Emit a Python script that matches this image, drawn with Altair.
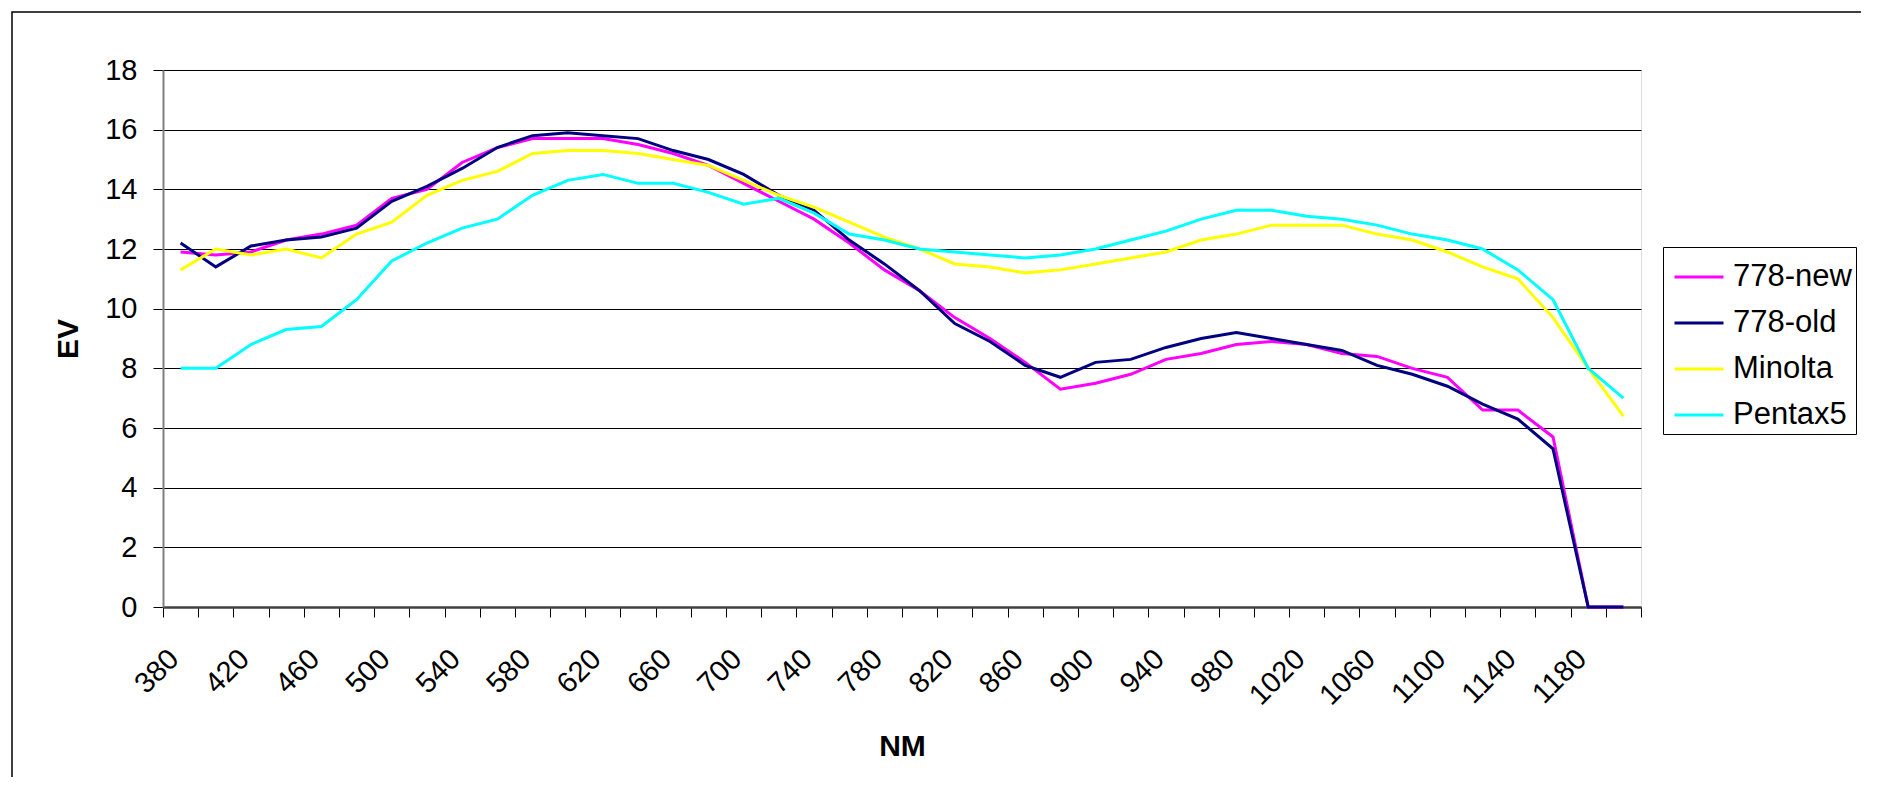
import altair as alt
import pandas as pd

wavelengths = [380, 400, 420, 440, 460, 480, 500, 520, 540, 560,
               580, 600, 620, 640, 660, 680, 700, 720, 740, 760,
               780, 800, 820, 840, 860, 880, 900, 920, 940, 960,
               980, 1000, 1020, 1040, 1060, 1080, 1100, 1120, 1140, 1160,
               1180, 1200]

ev_778_new = [11.9, 11.8, 11.9, 12.3, 12.5, 12.8, 13.7, 14.0, 14.9, 15.4,
              15.7, 15.7, 15.7, 15.5, 15.2, 14.8, 14.2, 13.6, 13.0, 12.2,
              11.3, 10.6, 9.7, 9.0, 8.2, 7.3, 7.5, 7.8, 8.3, 8.5,
              8.8, 8.9, 8.8, 8.5, 8.4, 8.0, 7.7, 6.6, 6.6, 5.7,
              0.0, 0.0]
ev_778_old = [12.2, 11.4, 12.1, 12.3, 12.4, 12.7, 13.6, 14.1, 14.7, 15.4,
              15.8, 15.9, 15.8, 15.7, 15.3, 15.0, 14.5, 13.8, 13.3, 12.3,
              11.5, 10.6, 9.5, 8.9, 8.1, 7.7, 8.2, 8.3, 8.7, 9.0,
              9.2, 9.0, 8.8, 8.6, 8.1, 7.8, 7.4, 6.8, 6.3, 5.3,
              0.0, 0.0]
ev_minolta = [11.3, 12.0, 11.8, 12.0, 11.7, 12.5, 12.9, 13.8, 14.3, 14.6,
              15.2, 15.3, 15.3, 15.2, 15.0, 14.8, 14.3, 13.8, 13.4, 12.9,
              12.4, 12.0, 11.5, 11.4, 11.2, 11.3, 11.5, 11.7, 11.9, 12.3,
              12.5, 12.8, 12.8, 12.8, 12.5, 12.3, 11.9, 11.4, 11.0, 9.7,
              8.0, 6.4]
ev_pentax5 = [8.0, 8.0, 8.8, 9.3, 9.4, 10.3, 11.6, 12.2, 12.7, 13.0,
              13.8, 14.3, 14.5, 14.2, 14.2, 13.9, 13.5, 13.7, 13.2, 12.5,
              12.3, 12.0, 11.9, 11.8, 11.7, 11.8, 12.0, 12.3, 12.6, 13.0,
              13.3, 13.3, 13.1, 13.0, 12.8, 12.5, 12.3, 12.0, 11.3, 10.3,
              8.0, 7.0]

series_names = ["778-new", "778-old", "Minolta", "Pentax5"]
series_colors = ["#FF00FF", "#000080", "#FFFF00", "#00FFFF"]
y_ticks = [0, 2, 4, 6, 8, 10, 12, 14, 16, 18]

rows = []
for name, vals in zip(series_names, [ev_778_new, ev_778_old, ev_minolta, ev_pentax5]):
    for wl, v in zip(wavelengths, vals):
        rows.append({"NM": wl, "EV": v, "series": name})
df = pd.DataFrame(rows)

W = 1478
H = 537
FONT = "Liberation Sans"

lines = alt.Chart(df).mark_line(strokeWidth=3).encode(
    x=alt.X(
        "NM:O",
        bandPosition=0.5,
        scale=alt.Scale(type="band", paddingInner=0, paddingOuter=0),
        axis=alt.Axis(
            title="NM",
            titleFont=FONT,
            titleFontSize=30,
            titleFontWeight="bold",
            titleColor="black",
            titleY=139,
            titleBaseline="middle",
            tickBand="extent",
            tickSize=10,
            tickColor="black",
            tickWidth=1,
            domainColor="#404040",
            domainWidth=2.5,
            labelAngle=-45,
            labelAlign="right",
            labelBaseline="middle",
            labelPadding=37,
            labelOffset=-7,
            labelFont=FONT,
            labelFontSize=29,
            labelColor="black",
            labelOverlap=False,
            labelExpr="(datum.value - 380) % 40 == 0 ? datum.label : ''",
            grid=False,
        ),
    ),
    y=alt.Y(
        "EV:Q",
        scale=alt.Scale(domain=[0, 18], nice=False, zero=True),
        axis=alt.Axis(
            title="EV",
            titleFont=FONT,
            titleFontSize=30,
            titleFontWeight="bold",
            titleColor="black",
            titleAngle=270,
            titleX=-95,
            titleY=H / 2,
            titleAlign="center",
            titleBaseline="middle",
            values=y_ticks,
            tickSize=10,
            tickColor="black",
            tickWidth=1,
            domainColor="#808080",
            domainWidth=2,
            labelPadding=16,
            labelFont=FONT,
            labelFontSize=29,
            labelColor="black",
            grid=True,
            gridColor="black",
            gridWidth=1,
        ),
    ),
    color=alt.Color(
        "series:N",
        sort=series_names,
        scale=alt.Scale(domain=series_names, range=series_colors),
        legend=alt.Legend(
            orient="none",
            legendX=1500,
            legendY=177,
            title=None,
            symbolType="stroke",
            symbolSize=2401,
            symbolStrokeWidth=3,
            symbolOffset=6,
            labelOffset=8,
            labelFont=FONT,
            labelFontSize=31,
            labelColor="black",
            padding=4,
            rowPadding=5,
            strokeColor="black",
            fillColor="white",
        ),
    ),
)

frame = alt.Chart(pd.DataFrame({"k": [0]})).mark_rect(
    fill=None, stroke="black", strokeWidth=1.5
).encode(
    x=alt.value(-151), y=alt.value(-58), x2=alt.value(W + 400), y2=alt.value(H + 400)
)

chart = alt.layer(frame, lines).properties(
    width=W,
    height=H,
    autosize=alt.AutoSizeParams(type="none"),
    padding={"left": 155, "top": 62, "right": 220, "bottom": 170},
    background="white",
).configure_view(
    fill="#C0C0C0", stroke="#808080", strokeWidth=2
).configure(font=FONT)

chart.save("out.html", embed_options={"renderer": "svg", "actions": False})
